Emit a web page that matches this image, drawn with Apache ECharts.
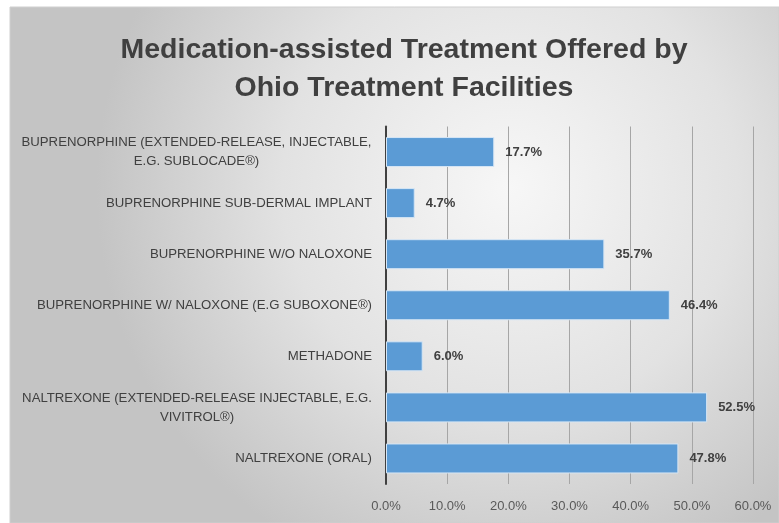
<!DOCTYPE html>
<html><head><meta charset="utf-8">
<script src="https://cdn.jsdelivr.net/npm/echarts@6/dist/echarts.min.js"></script>
<style>html,body{margin:0;padding:0;background:#fff}#c{width:779px;height:523px}</style>
</head><body><div id="c"></div>
<script>
const categories = [
  "BUPRENORPHINE (EXTENDED-RELEASE, INJECTABLE,\nE.G. SUBLOCADE®)",
  "BUPRENORPHINE SUB-DERMAL IMPLANT",
  "BUPRENORPHINE W/O NALOXONE",
  "BUPRENORPHINE W/ NALOXONE (E.G SUBOXONE®)",
  "METHADONE",
  "NALTREXONE (EXTENDED-RELEASE INJECTABLE, E.G.\nVIVITROL®)",
  "NALTREXONE (ORAL)"
];
const values = [17.7, 4.7, 35.7, 46.4, 6.0, 52.5, 47.8];
const xTicks = [0, 10, 20, 30, 40, 50, 60];
const titleText = "Medication-assisted Treatment Offered by\nOhio Treatment Facilities";

const FONT = "Liberation Sans, Arial, sans-serif";
const LABEL_SIZE = 13.2;
const ctx = document.createElement('canvas').getContext('2d');
ctx.font = LABEL_SIZE + 'px ' + FONT;
function fmtCat(v) {
  const lines = v.split('\n');
  if (lines.length === 1) return v;
  const w = Math.ceil(Math.max(...lines.map(l => ctx.measureText(l).width)));
  return lines.map(l => '{c' + w + '|' + l + '}').join('\n');
}
const rich = {};
categories.forEach(v => {
  const lines = v.split('\n');
  if (lines.length > 1) {
    const w = Math.ceil(Math.max(...lines.map(l => ctx.measureText(l).width)));
    rich['c' + w] = { width: w, align: 'center', fontSize: LABEL_SIZE, fontFamily: FONT, color: '#404040', lineHeight: 19 };
  }
});

const chart = echarts.init(document.getElementById('c'), null, { renderer: 'canvas' });
chart.setOption({
  backgroundColor: '#ffffff',
  animation: false,
  graphic: [{
    type: 'rect', z: -10, silent: true,
    shape: { x: 10, y: 7, width: 769, height: 516 },
    style: {
      fill: new echarts.graphic.RadialGradient(0.65, 0.35, 0.8, [
        { offset: 0, color: '#f7f7f7' },
        { offset: 0.55, color: '#e2e2e2' },
        { offset: 1, color: '#c4c4c4' }
      ]),
      stroke: '#cfcfcf', lineWidth: 1
    }
  }, {
    type: 'text', z: 10, silent: true,
    x: 404, y: 31,
    style: {
      text: titleText, align: 'center', verticalAlign: 'top',
      font: 'bold 28.5px ' + FONT, fill: '#404040', lineHeight: 38
    }
  }],
  grid: { left: 386, right: 26, top: 126.5, bottom: 39, containLabel: false },
  xAxis: {
    type: 'value', min: 0, max: 60, interval: 10,
    axisLine: { show: false },
    axisTick: { show: false },
    splitLine: { show: true, lineStyle: { color: '#a6a6a6', width: 1 } },
    axisLabel: {
      margin: 16, fontFamily: FONT, fontSize: 13, color: '#595959',
      formatter: v => xTicks.includes(v) ? v.toFixed(1) + '%' : ''
    }
  },
  yAxis: {
    type: 'category', data: categories, inverse: true,
    axisLine: { show: true, lineStyle: { color: '#404040', width: 2 } },
    axisTick: { show: false },
    axisLabel: {
      margin: 14, fontFamily: FONT, fontSize: LABEL_SIZE, color: '#404040', lineHeight: 19,
      formatter: fmtCat, rich: rich
    }
  },
  series: [{
    type: 'bar', data: values, barWidth: 30,
    itemStyle: { color: '#5b9bd5', borderColor: '#d6e6f5', borderWidth: 1 },
    label: {
      show: true, position: 'right', distance: 11,
      fontFamily: FONT, fontSize: 13, fontWeight: 'bold', color: '#404040',
      formatter: p => p.value.toFixed(1) + '%'
    }
  }]
});
</script></body></html>
